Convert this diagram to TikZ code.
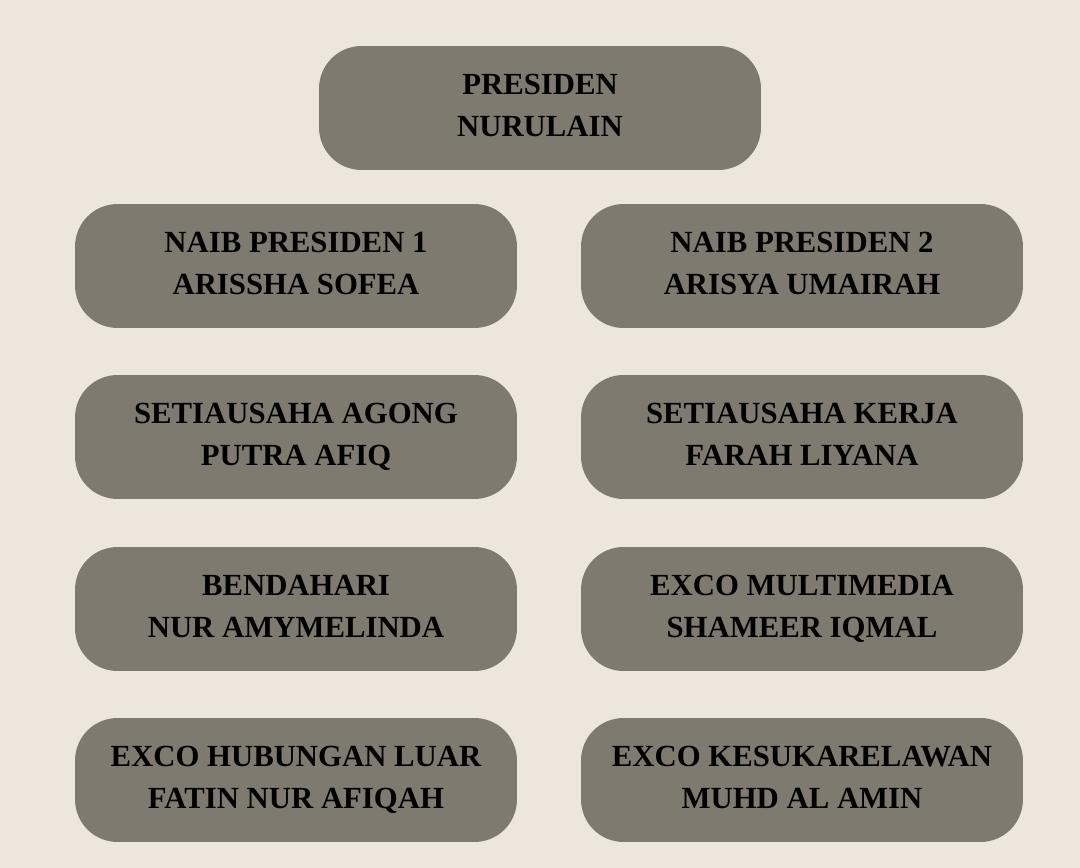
\documentclass[tikz,border=0pt]{standalone}
\usepackage{fontspec}
\setmainfont{Liberation Serif}
\definecolor{bgpaper}{HTML}{ECE6DC}
\definecolor{boxgrey}{HTML}{7E7A6F}

\begin{document}
\begin{tikzpicture}[x=0.02cm,y=-0.02cm,
  role/.style={fill=boxgrey,rounded corners=0.85cm,minimum width=8.84cm,minimum height=2.48cm,
    inner sep=0pt,align=center,text height=35.4pt,text depth=3.4pt,
    font=\fontsize{17.5}{23.8}\selectfont\bfseries}]
  % Background
  \fill[bgpaper] (0,0) rectangle (1080,868);
  % Top
  \node[role] (presiden) at (540,108) {PRESIDEN\\NURULAIN};
  % Left column
  \node[role] (naib1) at (296,266) {NAIB PRESIDEN 1\\ARISSHA SOFEA};
  \node[role] (suagong) at (296,437) {SETIAUSAHA AGONG\\PUTRA AFIQ};
  \node[role] (bendahari) at (296,609) {BENDAHARI\\NUR AMYMELINDA};
  \node[role] (hubluar) at (296,780) {EXCO HUBUNGAN LUAR\\FATIN NUR AFIQAH};
  % Right column
  \node[role] (naib2) at (802,266) {NAIB PRESIDEN 2\\ARISYA UMAIRAH};
  \node[role] (sukerja) at (802,437) {SETIAUSAHA KERJA\\FARAH LIYANA};
  \node[role] (multimedia) at (802,609) {EXCO MULTIMEDIA\\SHAMEER IQMAL};
  \node[role] (sukarela) at (802,780) {EXCO KESUKARELAWAN\\MUHD AL AMIN};
\end{tikzpicture}
\end{document}
